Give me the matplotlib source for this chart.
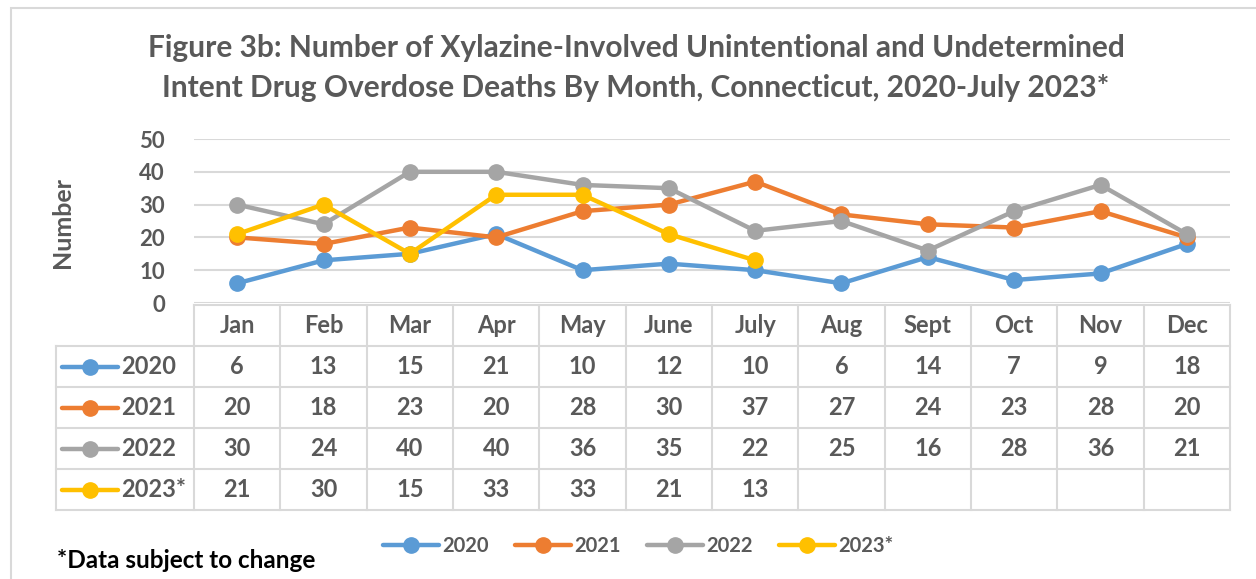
import matplotlib.pyplot as plt
from matplotlib.lines import Line2D
from matplotlib.patches import Rectangle

plt.rcParams['font.family'] = ['Lato', 'DejaVu Sans']
plt.rcParams['font.weight'] = 'bold'

months = ["Jan", "Feb", "Mar", "Apr", "May", "June", "July", "Aug", "Sept", "Oct", "Nov", "Dec"]
years = ["2020", "2021", "2022", "2023*"]
d2020 = [6, 13, 15, 21, 10, 12, 10, 6, 14, 7, 9, 18]
d2021 = [20, 18, 23, 20, 28, 30, 37, 27, 24, 23, 28, 20]
d2022 = [30, 24, 40, 40, 36, 35, 22, 25, 16, 28, 36, 21]
d2023 = [21, 30, 15, 33, 33, 21, 13]
series = [d2020, d2021, d2022, d2023]
colors = ["#5B9BD5", "#ED7D31", "#A5A5A5", "#FFC000"]

TXT = "#595959"
GRID = "#D9D9D9"
W, H = 1256, 579


def fx(x):
    return x / W


def fy(y):
    return 1 - y / H


fig = plt.figure(figsize=(W / 100, H / 100), dpi=100)

# outer chart frame
fig.patches.append(Rectangle((fx(11), fy(700)), fx(1400), (700 - 8) / H,
                             transform=fig.transFigure, fill=False,
                             edgecolor=GRID, linewidth=1.5))

fig.text(fx(636), fy(48), "Figure 3b: Number of Xylazine-Involved Unintentional and Undetermined",
         ha="center", va="center", fontsize=21.5, color=TXT, fontweight="bold")
fig.text(fx(636), fy(88), "Intent Drug Overdose Deaths By Month, Connecticut, 2020-July 2023*",
         ha="center", va="center", fontsize=21.5, color=TXT, fontweight="bold")

# plot area
ax = fig.add_axes([fx(194), fy(303), fx(1230 - 194), (303 - 139) / H])
for vals, c in zip(series, colors):
    ax.plot(range(len(vals)), vals, color=c, linewidth=3.2, marker="o",
            markersize=11, solid_capstyle="round", clip_on=False)
ax.set_xlim(-0.5, 11.5)
ax.set_ylim(0, 50)
ax.set_yticks(range(0, 51, 10))
ax.set_xticks([])
ax.grid(axis="y", color=GRID, linewidth=1.5)
ax.set_axisbelow(True)
for s in ax.spines.values():
    s.set_visible(False)
ax.tick_params(axis="y", length=0, labelsize=16, labelcolor=TXT, pad=21)
fig.text(fx(62), fy(222), "Number", rotation=90, ha="center", va="center",
         fontsize=18, color=TXT, fontweight="bold")

# data table
col_w = (1230 - 194) / 12
lab_w = (194 - 56) / col_w
tb = fig.add_axes([fx(56), fy(510), fx(1230 - 56), (510 - 305) / H])
tb.set_xlim(-0.5 - lab_w, 11.5)
tb.set_ylim(5, 0)
tb.axis("off")
lw = 1.5
tb.plot([-0.5, 11.5], [0, 0], color=GRID, lw=lw, clip_on=False)
for r in range(1, 6):
    tb.plot([-0.5 - lab_w, 11.5], [r, r], color=GRID, lw=lw, clip_on=False)
for k in range(13):
    tb.plot([k - 0.5, k - 0.5], [0, 5], color=GRID, lw=lw, clip_on=False)
tb.plot([-0.5 - lab_w, -0.5 - lab_w], [1, 5], color=GRID, lw=lw, clip_on=False)

for i, m in enumerate(months):
    tb.text(i, 0.5, m, ha="center", va="center", fontsize=17, color=TXT)
for r, (yr, vals, c) in enumerate(zip(years, series, colors)):
    y = r + 1.5
    x0 = -0.5 - lab_w
    tb.plot([x0 + 0.07, x0 + 0.72], [y, y], color=c, lw=3.2,
            solid_capstyle="round", clip_on=False)
    tb.plot([x0 + 0.395], [y], marker="o", color=c, markersize=11, clip_on=False)
    tb.text(x0 + 0.76, y, yr, ha="left", va="center", fontsize=17, color=TXT)
    for i, v in enumerate(vals):
        tb.text(i, y, str(v), ha="center", va="center", fontsize=17, color=TXT)

# legend
handles = [Line2D([], [], color=c, lw=3.2, marker="o", markersize=11,
                  solid_capstyle="round") for c in colors]
fig.legend(handles, years, loc="center", bbox_to_anchor=(fx(638), fy(546)),
           ncol=4, frameon=False, fontsize=14.5, labelcolor=TXT, handlelength=2.8,
           handletextpad=0.15, columnspacing=1.3)

fig.text(fx(57), fy(561), "*Data subject to change", ha="left", va="center",
         fontsize=17.5, color="black", fontweight="bold")

fig.savefig("out.png", dpi=100)
